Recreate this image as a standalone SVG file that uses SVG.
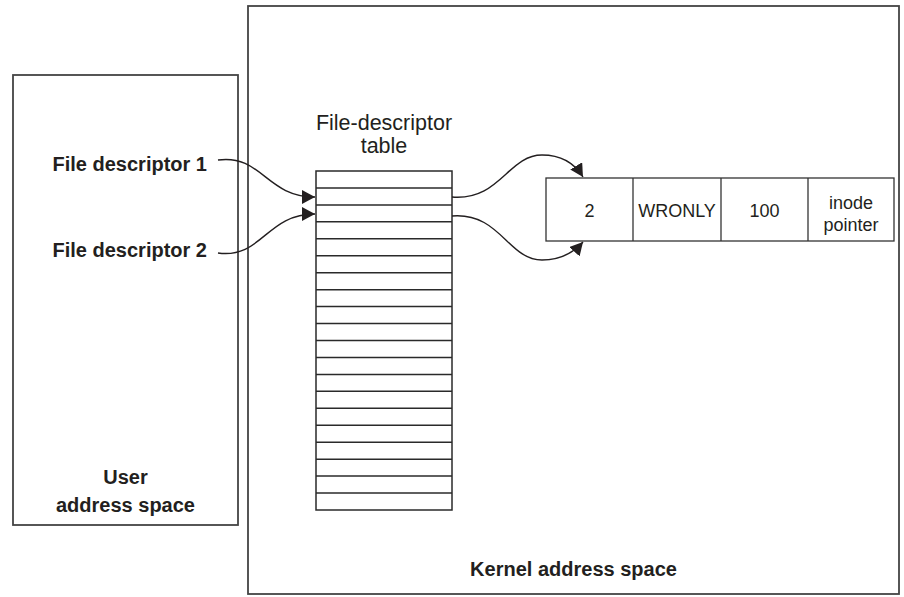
<svg xmlns="http://www.w3.org/2000/svg" width="904" height="597" viewBox="0 0 904 597">
  <style>
    .box { fill: #ffffff; stroke: #444444; stroke-width: 1.8; }
    .tbl { fill: #ffffff; stroke: #2a2a2a; stroke-width: 1.5; }
    .row { stroke: #2a2a2a; stroke-width: 1.5; }
    .cell { fill: #ffffff; stroke: #333333; stroke-width: 1.3; }
    .lbl { font-family: "Liberation Sans", Arial, sans-serif; font-size: 20px; font-weight: bold; fill: #231f20; }
    .reg { font-family: "Liberation Sans", Arial, sans-serif; font-size: 21.5px; fill: #231f20; }
    .sm { font-family: "Liberation Sans", Arial, sans-serif; font-size: 18px; fill: #231f20; }
    .conn { fill: none; stroke: #231f20; stroke-width: 1.4; marker-end: url(#arrow); }
  </style>
  <defs>
    <marker id="arrow" markerUnits="userSpaceOnUse" markerWidth="14" markerHeight="14" refX="13" refY="7" orient="auto">
      <path d="M0,0 L13,7 L0,14 z" fill="#231f20"/>
    </marker>
  </defs>

  <g id="kernel-space">
    <rect class="box" x="248" y="6" width="651" height="588"/>
    <text class="lbl" x="573.5" y="576" text-anchor="middle">Kernel address space</text>
  </g>

  <g id="user-space">
    <rect class="box" x="13" y="75" width="225" height="450"/>
    <text class="lbl" x="125.5" y="484" text-anchor="middle">User</text>
    <text class="lbl" x="125.5" y="512" text-anchor="middle">address space</text>
  </g>

  <g id="fd1">
    <text class="lbl" x="207" y="171" text-anchor="end">File descriptor 1</text>
  </g>
  <g id="fd2">
    <text class="lbl" x="207" y="257" text-anchor="end">File descriptor 2</text>
  </g>

  <g id="fd-table">
    <text class="reg" x="384" y="130" text-anchor="middle">File-descriptor</text>
    <text class="reg" x="384" y="153" text-anchor="middle">table</text>
    <rect class="tbl" x="316" y="171" width="136" height="339"/>
    <line class="row" x1="316" y1="187.95" x2="452" y2="187.95"/>
    <line class="row" x1="316" y1="204.9" x2="452" y2="204.9"/>
    <line class="row" x1="316" y1="221.85" x2="452" y2="221.85"/>
    <line class="row" x1="316" y1="238.8" x2="452" y2="238.8"/>
    <line class="row" x1="316" y1="255.75" x2="452" y2="255.75"/>
    <line class="row" x1="316" y1="272.7" x2="452" y2="272.7"/>
    <line class="row" x1="316" y1="289.65" x2="452" y2="289.65"/>
    <line class="row" x1="316" y1="306.6" x2="452" y2="306.6"/>
    <line class="row" x1="316" y1="323.55" x2="452" y2="323.55"/>
    <line class="row" x1="316" y1="340.5" x2="452" y2="340.5"/>
    <line class="row" x1="316" y1="357.45" x2="452" y2="357.45"/>
    <line class="row" x1="316" y1="374.4" x2="452" y2="374.4"/>
    <line class="row" x1="316" y1="391.35" x2="452" y2="391.35"/>
    <line class="row" x1="316" y1="408.3" x2="452" y2="408.3"/>
    <line class="row" x1="316" y1="425.25" x2="452" y2="425.25"/>
    <line class="row" x1="316" y1="442.2" x2="452" y2="442.2"/>
    <line class="row" x1="316" y1="459.15" x2="452" y2="459.15"/>
    <line class="row" x1="316" y1="476.1" x2="452" y2="476.1"/>
    <line class="row" x1="316" y1="493.05" x2="452" y2="493.05"/>
  </g>

  <g id="open-file-entry">
    <rect class="cell" x="546" y="178" width="348" height="63"/>
    <line class="cell" x1="633" y1="178" x2="633" y2="241"/>
    <line class="cell" x1="721" y1="178" x2="721" y2="241"/>
    <line class="cell" x1="808" y1="178" x2="808" y2="241"/>
    <text class="sm" x="589.5" y="217" text-anchor="middle">2</text>
    <text class="sm" x="677" y="217" text-anchor="middle">WRONLY</text>
    <text class="sm" x="764.5" y="217" text-anchor="middle">100</text>
    <text class="sm" x="851" y="209" text-anchor="middle">inode</text>
    <text class="sm" x="851" y="231" text-anchor="middle">pointer</text>
  </g>

  <g id="connectors">
    <path class="conn" d="M218,160 C262,154 266,197 315,197"/>
    <path class="conn" d="M218,253 C262,259 266,214 315,214"/>
    <path class="conn" d="M452,197 C500,201 508,155 542,155 C562,155 575,164 583,177"/>
    <path class="conn" d="M452,216 C500,212 508,260 542,260 C562,260 575,251 583,242"/>
  </g>
</svg>
